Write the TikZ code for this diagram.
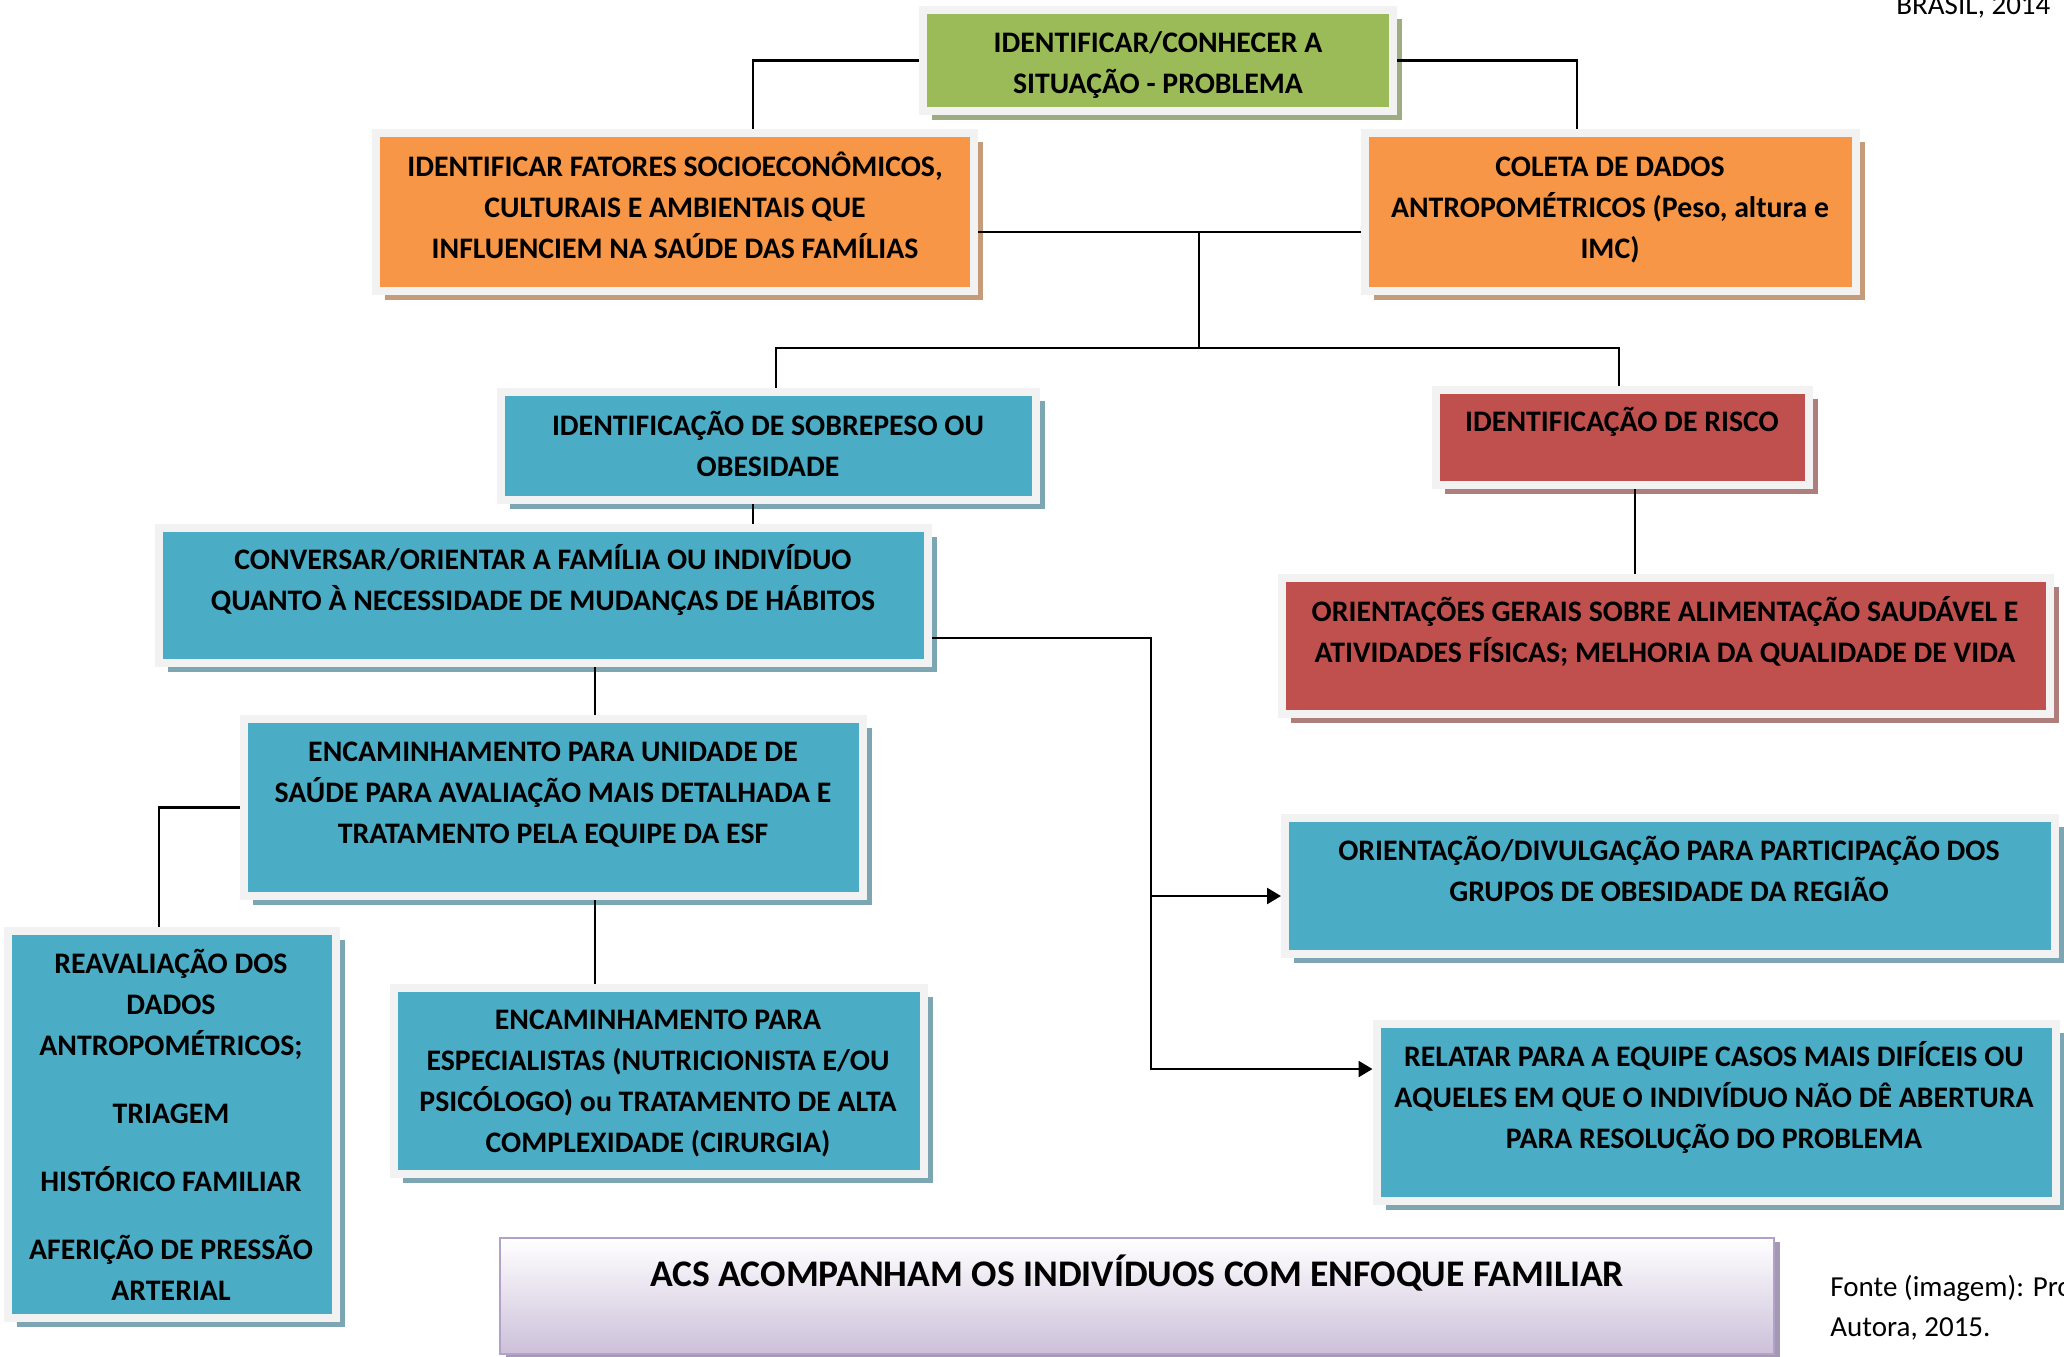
\documentclass[tikz,border=0pt]{standalone}
\usepackage{fontspec}
\setmainfont{Carlito}
\usetikzlibrary{arrows.meta,shadows,calc}
\definecolor{cgreen}{HTML}{9BBB59}
\definecolor{corange}{HTML}{F79646}
\definecolor{cblue}{HTML}{4BACC6}
\definecolor{cred}{HTML}{C0504D}
\definecolor{cframe}{HTML}{F2F2F2}
\definecolor{clav}{HTML}{CCC0DA}
\definecolor{clavb}{HTML}{B3A2C7}
\begin{document}
\begin{tikzpicture}[x=0.5pt,y=-0.5pt,
  box/.style={draw=cframe, line width=4pt, fill=#1, inner sep=0pt,
    drop shadow={shadow xshift=4.5pt, shadow yshift=-4.5pt, fill=#1!50!gray!85, opacity=1}},
  txt/.style={font=\bfseries\fontsize{14.9}{20.5}\selectfont, align=center, inner sep=0pt},
  plain/.style={font=\fontsize{14.5}{20.5}\selectfont, inner sep=0pt},
  line/.style={draw=black, line width=1.25pt},
  arr/.style={line, -{Triangle[length=7pt,width=8pt]}}]
\useasboundingbox (0,0) rectangle (2064,1356);

% boxes
\node[box=cgreen, minimum width=235pt, minimum height=50.5pt] (g) at (1158,60.5) {};
\node[txt] (gt) at (1158,65) {IDENTIFICAR/CONHECER A\\SITUAÇÃO - PROBLEMA};

\node[box=corange, minimum width=299pt, minimum height=79pt] (oL) at (675,212) {};
\node[txt] (oLt) at (675,205) {IDENTIFICAR FATORES SOCIOECONÔMICOS,\\CULTURAIS E AMBIENTAIS QUE\\INFLUENCIEM NA SAÚDE DAS FAMÍLIAS};

\node[box=corange, minimum width=245.5pt, minimum height=79pt] (oR) at (1610.5,212) {};
\node[txt] (oRt) at (1610,210) {COLETA DE DADOS\\ANTROPOMÉTRICOS (Peso, altura e\\IMC)};

\node[box=cblue, minimum width=267.5pt, minimum height=54pt] (b1) at (768.5,446) {};
\node[txt] (b1t) at (768,443.5) {IDENTIFICAÇÃO DE SOBREPESO OU\\OBESIDADE};

\node[box=cred, minimum width=186.5pt, minimum height=47.5pt] (r1) at (1622.5,437.5) {};
\node[txt] (r1t) at (1622,422) {IDENTIFICAÇÃO DE RISCO};

\node[box=cred, minimum width=384pt, minimum height=68pt] (r2) at (1666,646) {};
\node[txt] (r2t) at (1665,631.5) {ORIENTAÇÕES GERAIS SOBRE ALIMENTAÇÃO SAUDÁVEL E\\ATIVIDADES FÍSICAS; MELHORIA DA QUALIDADE DE VIDA};

\node[box=cblue, minimum width=384.5pt, minimum height=67.5pt] (b2) at (543.5,595.5) {};
\node[txt] (b2t) at (543,580) {CONVERSAR/ORIENTAR A FAMÍLIA OU INDIVÍDUO\\QUANTO À NECESSIDADE DE MUDANÇAS DE HÁBITOS};

\node[box=cblue, minimum width=309.5pt, minimum height=88.5pt] (b3) at (553.5,807.5) {};
\node[txt] (b3t) at (553,795) {ENCAMINHAMENTO PARA UNIDADE DE\\SAÚDE PARA AVALIAÇÃO MAIS DETALHADA E\\TRATAMENTO PELA EQUIPE DA ESF};

\node[box=cblue, minimum width=164pt, minimum height=193.5pt] (rv) at (172,1124.5) {};
\node[txt] (rvt) at (171,1124.5) {REAVALIAÇÃO DOS\\DADOS\\ANTROPOMÉTRICOS;\\[13.5pt]TRIAGEM\\[13.5pt]HISTÓRICO FAMILIAR\\[13.5pt]AFERIÇÃO DE PRESSÃO\\ARTERIAL};

\node[box=cblue, minimum width=265pt, minimum height=93pt] (b4) at (659,1081) {};
\node[txt] (b4t) at (658,1083) {ENCAMINHAMENTO PARA\\ESPECIALISTAS (NUTRICIONISTA E/OU\\PSICÓLOGO) ou TRATAMENTO DE ALTA\\COMPLEXIDADE (CIRURGIA)};

\node[box=cblue, minimum width=385pt, minimum height=68pt] (b5) at (1670,886) {};
\node[txt] (b5t) at (1669,868.5) {ORIENTAÇÃO/DIVULGAÇÃO PARA PARTICIPAÇÃO DOS\\GRUPOS DE OBESIDADE DA REGIÃO};

\node[box=cblue, minimum width=339.5pt, minimum height=88.5pt] (b6) at (1716,1112.5) {};
\node[txt] (b6t) at (1714,1097.5) {RELATAR PARA A EQUIPE CASOS MAIS DIFÍCEIS OU\\AQUELES EM QUE O INDIVÍDUO NÃO DÊ ABERTURA\\PARA RESOLUÇÃO DO PROBLEMA};

\node[draw=clavb, line width=1.2pt, top color=white, bottom color=clav, inner sep=0pt,
  minimum width=637pt, minimum height=58pt,
  drop shadow={shadow xshift=3pt, shadow yshift=-2pt, fill=clavb!70!gray, opacity=1}] (acs) at (1137,1296) {};
\node[txt, font=\bfseries\fontsize{18.8}{23}\selectfont] (acst) at (1137,1273) {ACS ACOMPANHAM OS INDIVÍDUOS COM ENFOQUE FAMILIAR};

% side texts
\node[plain, anchor=base west] (br) at (1896,14) {BRASIL, 2014};
\node[plain, anchor=west] (f1) at (1830,1288) {Fonte (imagem): Pro};
\node[plain, anchor=west] (f2) at (1830,1329) {Autora, 2015.};

% connectors
\draw[line] (g.west) -| ([xshift=39pt]oL.north);
\draw[line] (g.east) -| ([xshift=-16.75pt]oR.north);
\draw[line] ([yshift=-10pt]oL.east) -- ([yshift=-10pt]oR.west);
\coordinate (j1) at (1199,232);
\coordinate (j2) at (1199,348);
\draw[line] (j1) -- (j2);
\draw[line] ([xshift=3.75pt]b1.north) |- (j2) -| ([xshift=-1.75pt]r1.north);
\draw[line] ([xshift=6.25pt]r1.south) -- ([xshift=6.25pt]r1.south |- r2.north);
\draw[line] ([xshift=-7.75pt]b1.south) -- ([xshift=-7.75pt]b1.south |- b2.north);
\draw[line] ([xshift=25.75pt]b2.south) -- ([xshift=25.75pt]b2.south |- b3.north);
\draw[line] (b3.west) -| ([xshift=-6.5pt]rv.north);
\draw[line] ([xshift=20.75pt]b3.south) -- ([xshift=20.75pt]b3.south |- b4.north);
\coordinate (k1) at (1151,1069);
\coordinate (k2) at (1151,896);
\draw[arr] ([yshift=-21.25pt]b2.east) -| (k1) -- (k1 -| b6.west);
\draw[arr] (k2) -- (k2 -| b5.west);
\end{tikzpicture}
\end{document}
